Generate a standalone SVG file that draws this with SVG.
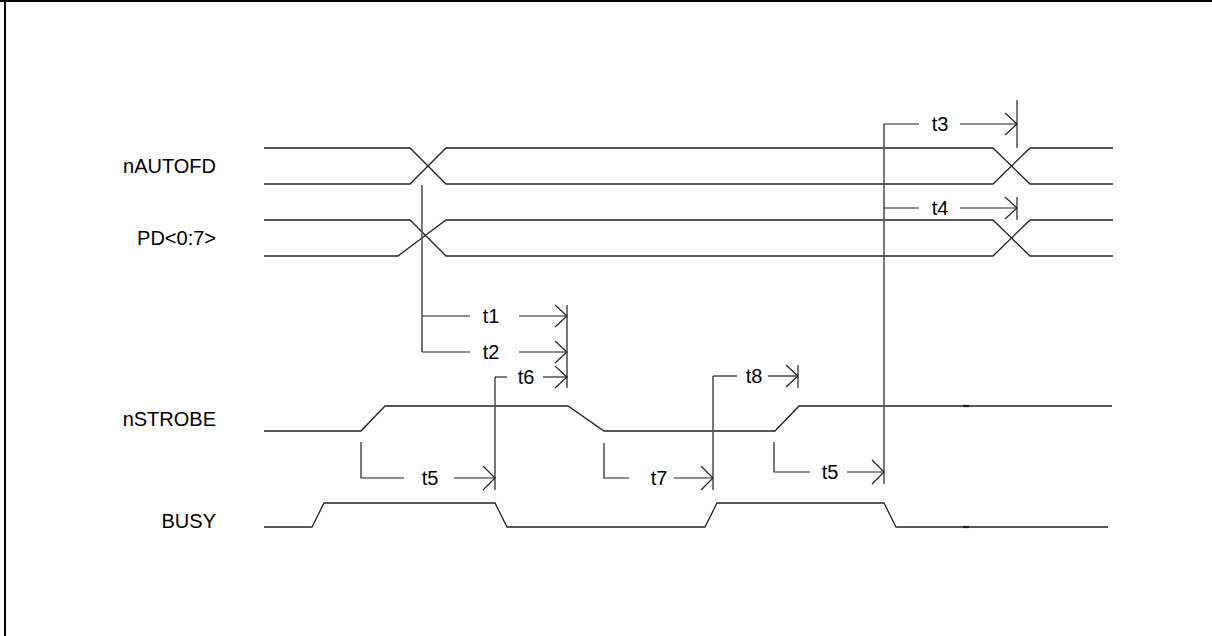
<svg xmlns="http://www.w3.org/2000/svg" width="1212" height="636" viewBox="0 0 1212 636">
<style>
.sig{fill:none;stroke:#222;stroke-width:1.3}
.dim{fill:none;stroke:#222;stroke-width:1.2}
.vl{fill:none;stroke:#555;stroke-width:1.6}
.lbl{font-family:"Liberation Sans",Arial,sans-serif;font-size:20px;fill:#000}
.tl{font-family:"Liberation Sans",Arial,sans-serif;font-size:20px;fill:#000;text-anchor:middle}
</style>
<rect width="1212" height="636" fill="#fff"/>
<g id="frame">
<line x1="0" y1="1" x2="1212" y2="1" stroke="#000" stroke-width="2"/>
<line x1="5" y1="0" x2="5" y2="636" stroke="#000" stroke-width="2"/>
</g>
<g id="sig-nautofd">
<text class="lbl" x="216" y="173" text-anchor="end">nAUTOFD</text>
<polyline class="sig" points="264,148 410,148 446,184 993,184 1030,148 1113,148"/>
<polyline class="sig" points="264,184 410,184 446,148 993,148 1030,184 1113,184"/>
</g>
<g id="sig-pd">
<text class="lbl" x="216" y="245" text-anchor="end">PD&lt;0:7&gt;</text>
<polyline class="sig" points="264,220 410,220 446,256 993,256 1030,220 1113,220"/>
<polyline class="sig" points="264,256 398,256 446,220 993,220 1030,256 1113,256"/>
</g>
<g id="sig-nstrobe">
<text class="lbl" x="216" y="426" text-anchor="end">nSTROBE</text>
<polyline class="sig" points="264,431 361,431 385,406 568,406 604,431 775,431 799,406 1112,406"/>
<line x1="963" y1="406" x2="969" y2="406" stroke="#222" stroke-width="2.2"/>
</g>
<g id="sig-busy">
<text class="lbl" x="216" y="528" text-anchor="end">BUSY</text>
<polyline class="sig" points="264,527 312,527 324,503 495,503 507,527 705,527 717,503 884,503 896,527 1108,527"/>
<line x1="963" y1="527" x2="969" y2="527" stroke="#222" stroke-width="2.2"/>
</g>
<g id="connectors">
<line class="vl" x1="422" y1="185" x2="422" y2="352"/>
<line class="vl" x1="495" y1="377" x2="495" y2="490"/>
<line class="vl" x1="713" y1="376" x2="713" y2="490"/>
<line class="vl" x1="884" y1="124" x2="884" y2="484"/>
<line class="vl" x1="567" y1="305" x2="567" y2="388"/>
<line class="dim" x1="1017" y1="100" x2="1017" y2="148"/>
<line class="dim" x1="1017" y1="197" x2="1017" y2="220"/>
<line class="dim" x1="798" y1="365" x2="798" y2="388"/>
</g>
<g id="t1">
<polyline class="dim" points="422,316 470,316"/>
<text class="tl" x="491" y="323">t1</text>
<polyline class="dim" points="519,316 567,316 M555,305"/>
<polyline class="dim" points="555,305 567,316 555,327"/>
</g>
<g id="t2">
<polyline class="dim" points="422,352 470,352"/>
<text class="tl" x="491" y="359">t2</text>
<line class="dim" x1="519" y1="352" x2="567" y2="352"/>
<polyline class="dim" points="555,341 567,352 555,363"/>
</g>
<g id="t6">
<polyline class="dim" points="495,377 507,377"/>
<text class="tl" x="526" y="384">t6</text>
<line class="dim" x1="543" y1="377" x2="567" y2="377"/>
<polyline class="dim" points="555,366 567,377 555,388"/>
</g>
<g id="t3">
<polyline class="dim" points="884,124 919,124"/>
<text class="tl" x="940" y="131">t3</text>
<line class="dim" x1="960" y1="124" x2="1017" y2="124"/>
<polyline class="dim" points="1005,113 1017,124 1005,135"/>
</g>
<g id="t4">
<polyline class="dim" points="884,208 919,208"/>
<text class="tl" x="940" y="215">t4</text>
<line class="dim" x1="960" y1="208" x2="1017" y2="208"/>
<polyline class="dim" points="1005,197 1017,208 1005,219"/>
</g>
<g id="t5a">
<polyline class="dim" points="361,442 361,478 404,478"/>
<text class="tl" x="430" y="485">t5</text>
<line class="dim" x1="454" y1="478" x2="495" y2="478"/>
<polyline class="dim" points="483,466 495,478 483,490"/>
</g>
<g id="t7">
<polyline class="dim" points="604,443 604,478 629,478"/>
<text class="tl" x="659" y="485">t7</text>
<line class="dim" x1="674" y1="478" x2="713" y2="478"/>
<polyline class="dim" points="701,466 713,478 701,490"/>
</g>
<g id="t8">
<polyline class="dim" points="713,376 737,376"/>
<text class="tl" x="754" y="383">t8</text>
<line class="dim" x1="768" y1="376" x2="798" y2="376"/>
<polyline class="dim" points="786,365 798,376 786,387"/>
</g>
<g id="t5b">
<polyline class="dim" points="774,442 774,472 810,472"/>
<text class="tl" x="830" y="479">t5</text>
<line class="dim" x1="847" y1="472" x2="884" y2="472"/>
<polyline class="dim" points="872,460 884,472 872,484"/>
</g>
</svg>
